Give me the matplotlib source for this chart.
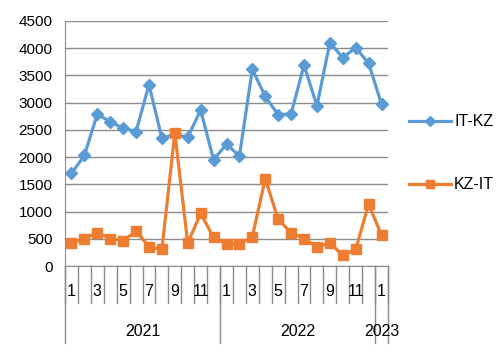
import numpy as np
import matplotlib
matplotlib.use('Agg')
import matplotlib.pyplot as plt
import matplotlib.transforms as mtransforms

months = [1, 2, 3, 4, 5, 6, 7, 8, 9, 10, 11, 12,
          1, 2, 3, 4, 5, 6, 7, 8, 9, 10, 11, 12,
          1]
years = ['2021', '2022', '2023']
year_len = [12, 12, 1]

it_kz = [1700, 2030, 2790, 2650, 2530, 2470, 3330, 2345, 2420, 2365, 2865, 1950,
         2240, 2020, 3610, 3115, 2775, 2795, 3690, 2940, 4105, 3825, 4010, 3725,
         2970]
kz_it = [415, 505, 615, 505, 465, 640, 355, 305, 2445, 420, 965, 525,
         405, 405, 540, 1600, 855, 615, 505, 345, 425, 195, 305, 1135,
         565]

blue = '#5B9BD5'
orange = '#ED7D31'
grid_col = '#8C8C8C'

plt.rcParams['font.family'] = 'Liberation Sans'

fig = plt.figure(figsize=(5.01, 3.55), dpi=100)
ax = fig.add_axes([65/501, 1 - 266/355, (388-65)/501, (266-21)/355])

x = np.arange(len(months))
ax.plot(x, it_kz, color=blue, lw=2.3, marker='D', ms=6.5, label='IT-KZ', clip_on=False)
ax.plot(x, kz_it, color=orange, lw=2.3, marker='s', ms=7, label='KZ-IT', clip_on=False)

ax.set_xlim(-0.5, len(months) - 0.5)
ax.set_ylim(0, 4500)
ax.set_yticks(np.arange(0, 4501, 500))
ax.yaxis.grid(True, color=grid_col, lw=1)
ax.set_axisbelow(True)
ax.tick_params(axis='y', length=0, labelsize=11, pad=9)
for s in ['top', 'right']:
    ax.spines[s].set_visible(False)
ax.spines['left'].set_color(grid_col)
ax.spines['bottom'].set_color(grid_col)

# category axis drawn manually (two levels)
ax.set_xticks([])
trans = mtransforms.blended_transform_factory(ax.transData, ax.transAxes)
h = 245  # axes height in px
for i in range(len(months) + 1):
    ax.plot([i - 0.5, i - 0.5], [0, -37/h], color=grid_col, lw=1, transform=trans, clip_on=False)
for i, m in enumerate(months):
    if m % 2 == 1:
        ax.text(i, -26/h, str(m), transform=trans, ha='center', va='center', fontsize=11.5)
start = 0
for yr, n in zip(years, year_len):
    ax.plot([start - 0.5, start - 0.5], [0, -77/h], color=grid_col, lw=1, transform=trans, clip_on=False)
    ax.text(start + (n - 1) / 2, -65/h, yr, transform=trans, ha='center', va='center', fontsize=11.5)
    start += n
ax.plot([start - 0.5, start - 0.5], [0, -77/h], color=grid_col, lw=1, transform=trans, clip_on=False)

fig.legend(loc='upper left', bbox_to_anchor=(395/501, 1 - 100/355), frameon=False,
           fontsize=11.5, labelspacing=3.0, handlelength=2.6, handletextpad=0.2,
           markerscale=0.75)

fig.savefig('out.png', dpi=100)
